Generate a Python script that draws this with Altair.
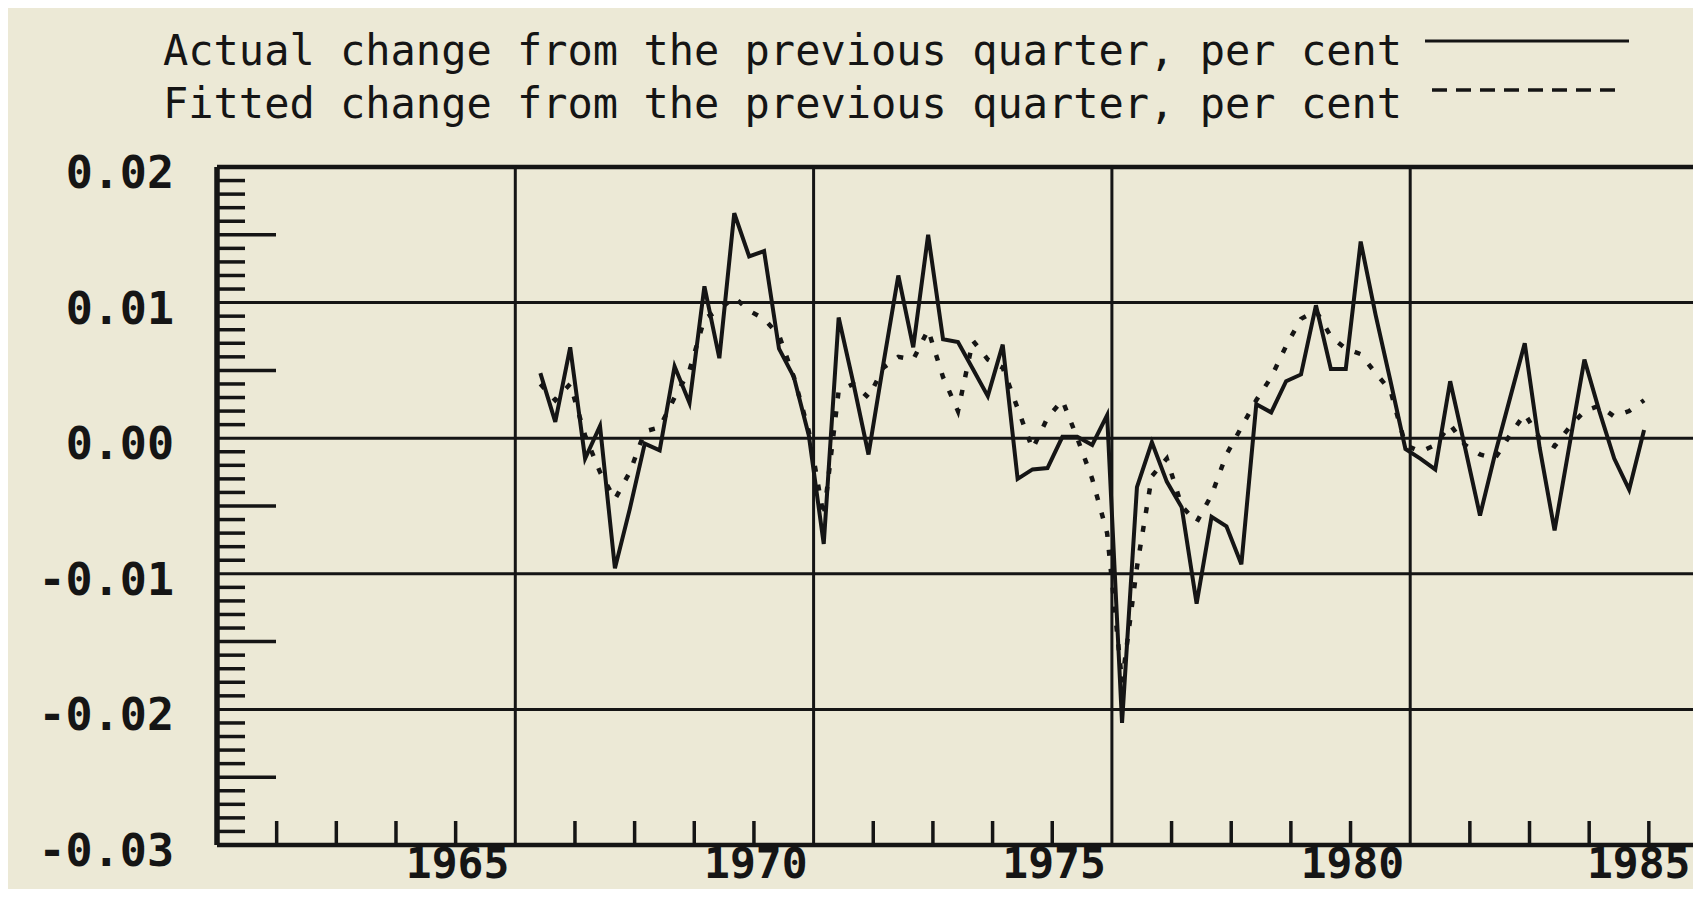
import altair as alt
import pandas as pd

# ---------------- data ----------------
START = 1965.42          # decimal year of the first plotted quarter
STEP = 0.25              # one quarter

ACTUAL = [
    0.0048, 0.0012, 0.0067, -0.0015, 0.0009, -0.0096, -0.0052, -0.0004, -0.0009, 0.0053,
    0.0026, 0.0112, 0.0059, 0.0166, 0.0134, 0.0138, 0.0066, 0.0045, 0.0002, -0.0078,
    0.0089, 0.0040, -0.0012, 0.0055, 0.0120, 0.0067, 0.0150, 0.0073, 0.0071, 0.0051,
    0.0031, 0.0069, -0.0030, -0.0023, -0.0022, 0.0001, 0.0001, -0.0005, 0.0017, -0.0210,
    -0.0036, -0.0003, -0.0032, -0.0051, -0.0122, -0.0058, -0.0065, -0.0093, 0.0025, 0.0019,
    0.0042, 0.0047, 0.0098, 0.0051, 0.0051, 0.0145, 0.0091, 0.0042, -0.0008, -0.0015,
    -0.0023, 0.0042, -0.0007, -0.0057, -0.0012, 0.0029, 0.0070, -0.0007, -0.0068, -0.0005,
    0.0058, 0.0020, -0.0015, -0.0038, 0.0006,
]
FITTED = [
    0.0040, 0.0028, 0.0040, 0.0002, -0.0025, -0.0045, -0.0025, 0.0005, 0.0008, 0.0030,
    0.0050, 0.0088, 0.0095, 0.0104, 0.0094, 0.0088, 0.0076, 0.0045, 0.0005, -0.0058,
    0.0035, 0.0040, 0.0030, 0.0052, 0.0060, 0.0058, 0.0080, 0.0045, 0.0020, 0.0072,
    0.0058, 0.0052, 0.0022, -0.0008, 0.0015, 0.0028, 0.0000, -0.0030, -0.0070, -0.0180,
    -0.0095, -0.0028, -0.0015, -0.0050, -0.0062, -0.0042, -0.0012, 0.0008, 0.0028, 0.0045,
    0.0068, 0.0088, 0.0094, 0.0075, 0.0066, 0.0062, 0.0048, 0.0035, -0.0005, -0.0010,
    -0.0005, 0.0010, -0.0005, -0.0012, -0.0015, 0.0002, 0.0018, 0.0000, -0.0006, 0.0008,
    0.0020, 0.0024, 0.0016, 0.0020, 0.0028,
]
TIME = [round(START + STEP * i, 4) for i in range(len(ACTUAL))]

Y_GRID = [0.01, 0.0, -0.01, -0.02]
Y_FRAME = [0.02, -0.03]
Y_LABEL_VALUES = [0.02, 0.01, 0.0, -0.01, -0.02, -0.03]
Y_LABELS = ["0.02", "0.01", "0.00", "-0.01", "-0.02", "-0.03"]
X_FRAME = [1960]
X_GRID = [1965, 1970, 1975, 1980]
X_LABEL_VALUES = [1965, 1970, 1975, 1980]
X_LABELS = ["1965", "1970", "1975", "1980"]
X_LAST_VALUE = [1985]
X_LAST_LABEL = ["1985"]
YEAR_TICKS = [y for y in range(1961, 1985) if y % 5 != 0]
MINOR_TICKS = [round(-0.03 + 0.001 * i, 4) for i in range(1, 50) if i % 5 != 0]
HALF_TICKS = [-0.025, -0.015, -0.005, 0.005, 0.015]
LEGEND = [
    "Actual change from the previous quarter, per cent",
    "Fitted change from the previous quarter, per cent",
]

# ---------------- styling ----------------
W, H = 1476, 678
PX_PER_YEAR = 59.66
XMAX = 1960 + W / PX_PER_YEAR
INK = "#151515"
BG = "#ECE9D6"
MONO = "DejaVu Sans Mono"

xs = alt.Scale(domain=[1960, XMAX], nice=False, zero=False)
ys = alt.Scale(domain=[-0.03, 0.02], nice=False, zero=False)

df = pd.DataFrame({"t": TIME, "actual": ACTUAL, "fitted": FITTED})
one = pd.DataFrame({"a": [0]})

hgrid = alt.Chart(pd.DataFrame({"v": Y_GRID})).mark_rule(color=INK, strokeWidth=3).encode(
    y=alt.Y("v:Q", scale=ys, axis=None))
hframe = alt.Chart(pd.DataFrame({"v": Y_FRAME})).mark_rule(color=INK, strokeWidth=4.5).encode(
    y=alt.Y("v:Q", scale=ys, axis=None))
vgrid = alt.Chart(pd.DataFrame({"yr": X_GRID})).mark_rule(color=INK, strokeWidth=3).encode(
    x=alt.X("yr:Q", scale=xs, axis=None))
vframe = alt.Chart(pd.DataFrame({"yr": X_FRAME})).mark_rule(color=INK, strokeWidth=5.5).encode(
    x=alt.X("yr:Q", scale=xs, axis=None))

minor = alt.Chart(pd.DataFrame({"v": MINOR_TICKS})).mark_rule(color=INK, strokeWidth=3.5).encode(
    y=alt.Y("v:Q", scale=ys, axis=None), x=alt.value(0), x2=alt.value(28))
half = alt.Chart(pd.DataFrame({"v": HALF_TICKS})).mark_rule(color=INK, strokeWidth=3.5).encode(
    y=alt.Y("v:Q", scale=ys, axis=None), x=alt.value(0), x2=alt.value(59))
yearticks = alt.Chart(pd.DataFrame({"yr": YEAR_TICKS})).mark_rule(color=INK, strokeWidth=3.5).encode(
    x=alt.X("yr:Q", scale=xs, axis=None), y=alt.value(H), y2=alt.value(H - 24))

ylab = alt.Chart(pd.DataFrame({"v": Y_LABEL_VALUES, "lab": Y_LABELS})).mark_text(
    align="right", baseline="middle", font=MONO, fontSize=45, fontWeight="bold", color=INK, dy=7
).encode(y=alt.Y("v:Q", scale=ys, axis=None), x=alt.value(-43), text="lab:N")

xlab_style = dict(align="right", baseline="alphabetic", font=MONO, fontSize=43,
                  fontWeight="bold", color=INK)
xlab = alt.Chart(pd.DataFrame({"yr": X_LABEL_VALUES, "lab": X_LABELS})).mark_text(
    dx=-6, **xlab_style
).encode(x=alt.X("yr:Q", scale=xs, axis=None), y=alt.value(H + 33), text="lab:N")
xlab_last = alt.Chart(pd.DataFrame({"yr": X_LAST_VALUE, "lab": X_LAST_LABEL})).mark_text(
    dx=-18, **xlab_style
).encode(x=alt.X("yr:Q", scale=xs, axis=None), y=alt.value(H + 33), text="lab:N")

fitted = alt.Chart(df).mark_line(color=INK, strokeWidth=4.5, strokeDash=[6, 13]).encode(
    x=alt.X("t:Q", scale=xs, axis=None), y=alt.Y("fitted:Q", scale=ys, axis=None))
actual = alt.Chart(df).mark_line(color=INK, strokeWidth=4).encode(
    x=alt.X("t:Q", scale=xs, axis=None), y=alt.Y("actual:Q", scale=ys, axis=None))

leg_style = dict(align="left", baseline="alphabetic", font=MONO, fontSize=42, color=INK)
leg1 = alt.Chart(one).mark_text(**leg_style).encode(
    x=alt.value(-54), y=alt.value(-102), text=alt.value(LEGEND[0]))
leg2 = alt.Chart(one).mark_text(**leg_style).encode(
    x=alt.value(-54), y=alt.value(-49), text=alt.value(LEGEND[1]))
legline1 = alt.Chart(one).mark_rule(color=INK, strokeWidth=3).encode(
    x=alt.value(1208), x2=alt.value(1412), y=alt.value(-126))
legline2 = alt.Chart(one).mark_rule(color=INK, strokeWidth=3.5, strokeDash=[15, 9]).encode(
    x=alt.value(1215), x2=alt.value(1405), y=alt.value(-77))

chart = alt.layer(
    hgrid, vgrid, minor, half, yearticks, hframe, vframe,
    fitted, actual, ylab, xlab, xlab_last, leg1, leg2, legline1, legline2,
).properties(
    width=W, height=H,
    autosize=alt.AutoSizeParams(type="none"),
    padding={"left": 209, "top": 159, "right": 0, "bottom": 44},
    background=BG,
).configure_view(stroke=None)

chart.save("out.html", embed_options={"renderer": "svg", "actions": False})
